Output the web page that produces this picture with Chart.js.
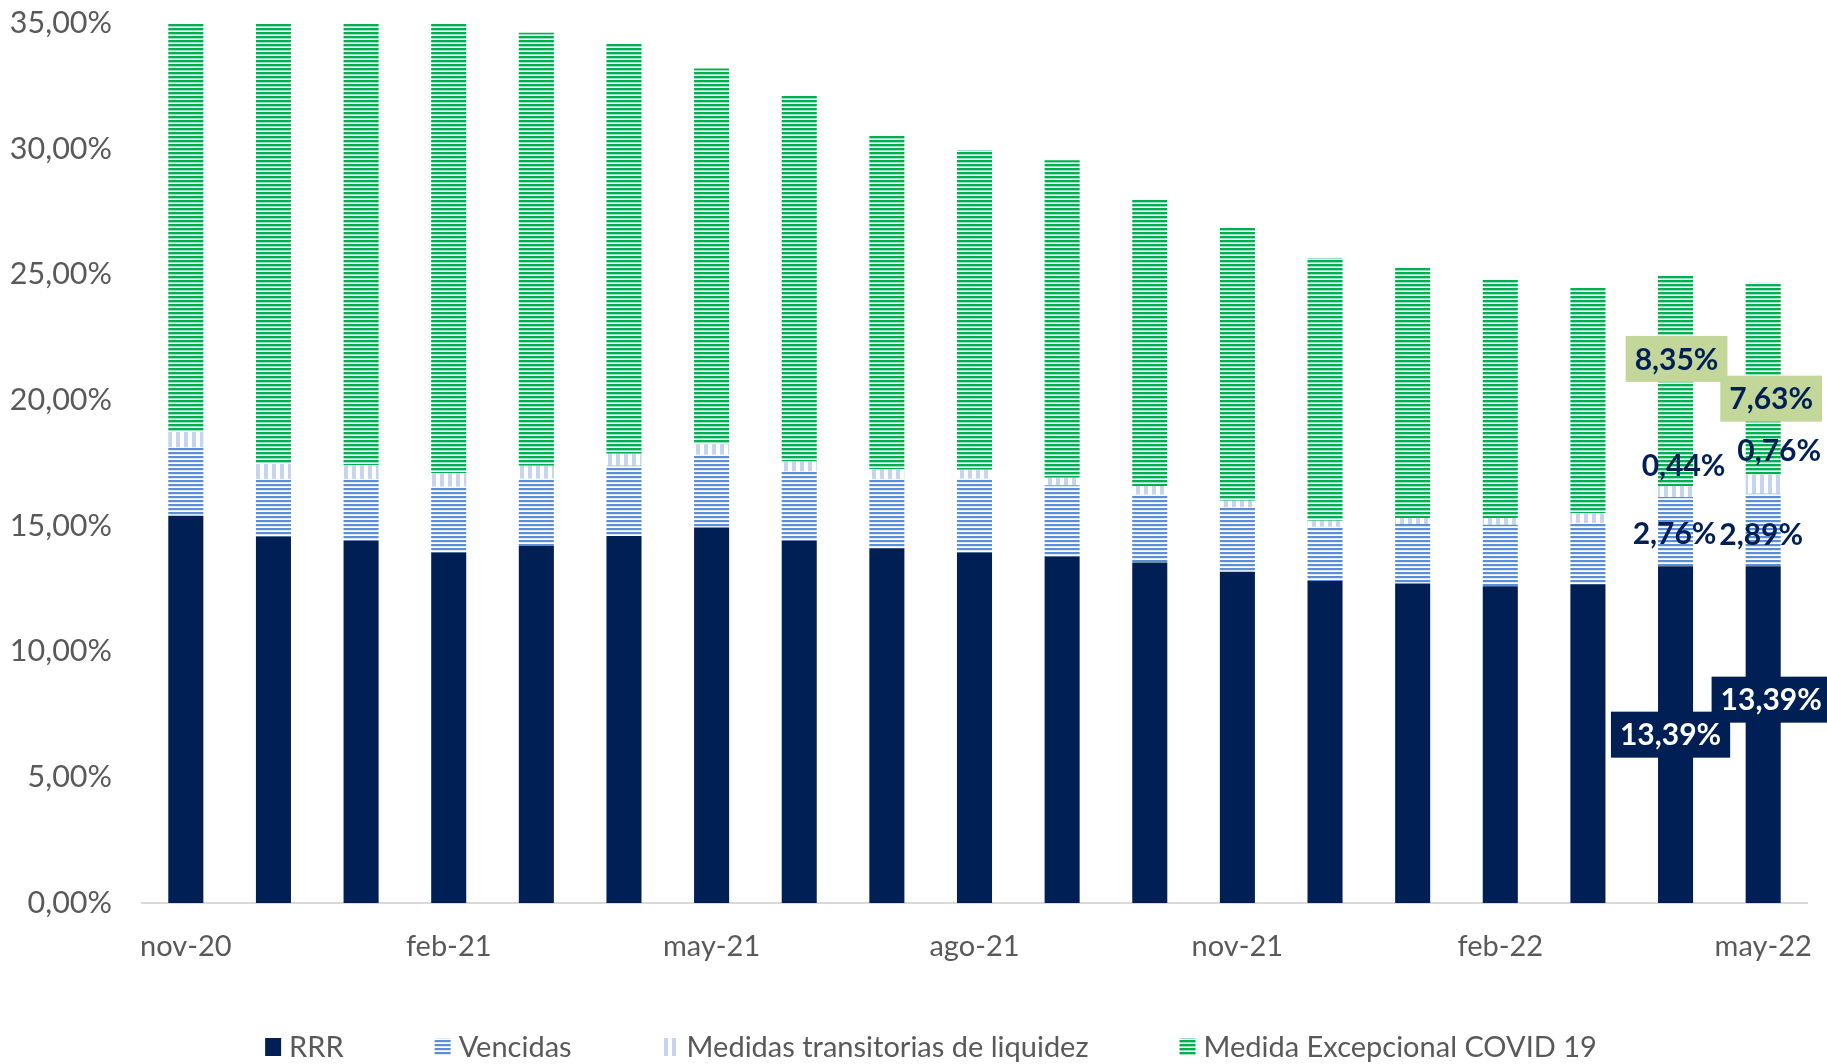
<!DOCTYPE html>
<html>
<head>
<meta charset="utf-8">
<script src="https://cdn.jsdelivr.net/npm/chart.js@4.4.1/dist/chart.umd.min.js"></script>
<style>
  html, body { margin: 0; padding: 0; background: #ffffff; }
  #wrap { width: 1827px; height: 1064px; }
</style>
</head>
<body>
<div id="wrap"><canvas id="c" width="1827" height="1064"></canvas></div>
<script>
// ---- data ----
const categories = ['nov-20','dic-20','ene-21','feb-21','mar-21','abr-21','may-21','jun-21','jul-21','ago-21','sep-21','oct-21','nov-21','dic-21','ene-22','feb-22','mar-22','abr-22','may-22'];
const seriesNames = ['RRR', 'Vencidas', 'Medidas transitorias de liquidez', 'Medida Excepcional COVID 19'];
const rrr          = [15.40,14.58,14.41,13.94,14.21,14.60,14.93,14.41,14.11,13.94,13.78,13.54,13.17,12.81,12.71,12.60,12.68,13.39,13.39];
const vencidas     = [2.72, 2.28, 2.45, 2.63, 2.67, 2.79, 2.90, 2.75, 2.75, 2.94, 2.84, 2.71, 2.56, 2.15, 2.36, 2.44, 2.43, 2.76, 2.89];
const transitorias = [0.61, 0.60, 0.56, 0.53, 0.51, 0.48, 0.42, 0.40, 0.39, 0.35, 0.29, 0.34, 0.27, 0.24, 0.24, 0.27, 0.40, 0.44, 0.76];
const covid        = [16.27,17.54,17.58,17.90,17.22,16.31,14.94,14.55,13.30,12.72,12.63,11.38,10.86,10.45,9.96, 9.49, 8.95, 8.35, 7.63];
const yTicks = [0, 5, 10, 15, 20, 25, 30, 35];
const labelledIdx = [17, 18];

// ---- styles ----
const NAVY = '#001F55';
const FONT = 'Lato, "Noto Sans", sans-serif';

function hStripes(color, period, thick) {
  const c = document.createElement('canvas');
  c.width = 8; c.height = period;
  const x = c.getContext('2d');
  x.fillStyle = '#ffffff'; x.fillRect(0, 0, 8, period);
  x.fillStyle = color; x.fillRect(0, 0, 8, thick);
  return x.createPattern(c, 'repeat');
}
function vStripes(color, period, thick) {
  const c = document.createElement('canvas');
  c.width = period; c.height = 8;
  const x = c.getContext('2d');
  x.fillStyle = '#ffffff'; x.fillRect(0, 0, period, 8);
  x.fillStyle = color; x.fillRect(0, 0, thick, 8);
  return x.createPattern(c, 'repeat');
}
const pVenc = hStripes('#5B8ED6', 4, 2.2);
const pTrans = vStripes('#C5D5EE', 8, 4);
const pCovid = hStripes('#00B050', 4, 2.4);

const fmt = v => v.toFixed(2).replace('.', ',') + '%';

// label styles per dataset: box colour (or null), text colour, offsets per labelled index
const labelStyles = [
  { box: NAVY,      color: '#ffffff', off: { 17: [-5, 0],  18: [8, -35] } },
  { box: null,      color: NAVY,      off: { 17: [-1, 2],  18: [-2, 4] } },
  { box: null,      color: NAVY,      off: { 17: [8, -26], 18: [16, -34] } },
  { box: '#C4D79B', color: NAVY,      off: { 17: [1, -22], 18: [8, 20] } }
];

const labelPlugin = {
  id: 'segLabels',
  afterDatasetsDraw(chart) {
    const ctx = chart.ctx;
    ctx.save();
    ctx.font = 'bold 30px ' + FONT;
    ctx.textAlign = 'center';
    ctx.textBaseline = 'middle';
    chart.data.datasets.forEach((ds, di) => {
      const meta = chart.getDatasetMeta(di);
      const st = labelStyles[di];
      labelledIdx.forEach(i => {
        const el = meta.data[i];
        if (!el) return;
        const o = st.off[i] || [0, 0];
        const cx = el.x + o[0];
        const cy = (el.y + el.base) / 2 + o[1];
        const txt = fmt(ds.data[i]);
        const w = ctx.measureText(txt).width;
        if (st.box) {
          ctx.fillStyle = st.box;
          ctx.fillRect(cx - w / 2 - 9, cy - 23, w + 18, 46);
        }
        ctx.fillStyle = st.color;
        ctx.fillText(txt, cx, cy + 1);
      });
    });
    ctx.restore();
  }
};

// legend drawn from the datasets (labels + fills), laid out in one centred row
const legendPlugin = {
  id: 'rowLegend',
  afterDraw(chart) {
    const ctx = chart.ctx;
    const boxW = 16, boxH = 18, gapText = 8, gapItem = 91;
    const cy = 1047, centreX = 931;
    ctx.save();
    ctx.font = '29px ' + FONT;
    ctx.textBaseline = 'middle';
    ctx.textAlign = 'left';
    const items = chart.data.datasets.map(ds => ({
      text: ds.label, fill: ds.backgroundColor, w: ctx.measureText(ds.label).width
    }));
    const total = items.reduce((s, it) => s + boxW + gapText + it.w, 0) + gapItem * (items.length - 1);
    let x = centreX - total / 2;
    items.forEach(it => {
      ctx.fillStyle = it.fill;
      ctx.fillRect(x, cy - boxH / 2, boxW, boxH);
      ctx.fillStyle = '#595959';
      ctx.fillText(it.text, x + boxW + gapText, cy + 1);
      x += boxW + gapText + it.w + gapItem;
    });
    ctx.restore();
  }
};

new Chart(document.getElementById('c'), {
  type: 'bar',
  data: {
    labels: categories,
    datasets: [
      { label: seriesNames[0], data: rrr,          backgroundColor: NAVY },
      { label: seriesNames[1], data: vencidas,     backgroundColor: pVenc },
      { label: seriesNames[2], data: transitorias, backgroundColor: pTrans },
      { label: seriesNames[3], data: covid,        backgroundColor: pCovid }
    ]
  },
  options: {
    responsive: false,
    animation: false,
    devicePixelRatio: 1,
    datasets: { bar: { categoryPercentage: 1.0, barPercentage: 0.4, borderWidth: 0 } },
    layout: { padding: { left: 0, right: 20, top: 23, bottom: 0 } },
    scales: {
      x: {
        stacked: true,
        grid: { display: false, drawTicks: true, tickLength: 26 },
        border: { display: true, color: '#D9D9D9', width: 2 },
        ticks: {
          autoSkip: false, maxRotation: 0, padding: 0,
          color: '#595959', font: { family: FONT, size: 29 },
          callback: (v, i) => (i % 3 === 0 ? categories[i] : '')
        },
        afterFit: s => { s.height = 1064 - 903; }
      },
      y: {
        stacked: true,
        min: 0, max: 35,
        grid: { display: false, drawTicks: true, tickLength: 30 },
        border: { display: false },
        afterBuildTicks: s => { s.ticks = yTicks.map(v => ({ value: v })); },
        ticks: {
          padding: 0,
          color: '#595959', font: { family: FONT, size: 30.5 },
          callback: v => fmt(v)
        },
        afterFit: s => { s.width = 142; }
      }
    },
    plugins: {
      legend: { display: false },
      tooltip: { enabled: false }
    }
  },
  plugins: [labelPlugin, legendPlugin]
});
</script>
</body>
</html>
